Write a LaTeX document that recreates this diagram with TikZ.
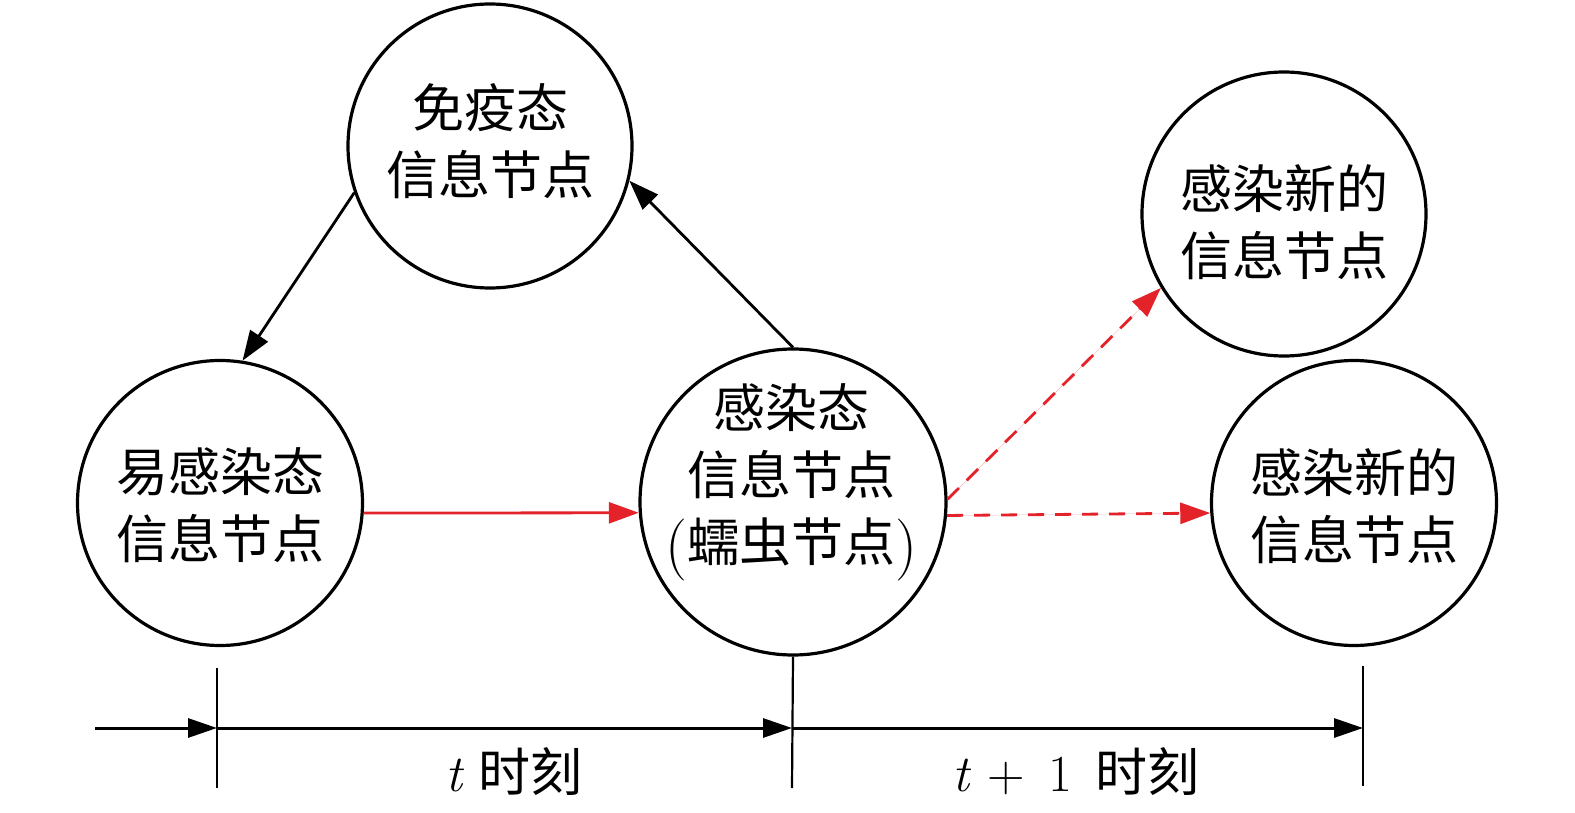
\documentclass[tikz,border=0pt]{standalone}
\usepackage{fontspec}
\newfontfamily\cjk{Noto Sans CJK SC}
\usetikzlibrary{arrows.meta}
\definecolor{myred}{RGB}{228,34,42}
\newcommand{\lmt}[1]{{\rmfamily #1}}
\newcommand{\bigpar}[1]{\raisebox{-4pt}{\rmfamily\fontsize{62}{67}\selectfont #1}}
\begin{document}
\begin{tikzpicture}[x=1pt,y=-1pt,
  circ/.style={circle,draw,line width=3.2pt,inner sep=0pt,minimum size=#1},
  lbl/.style={align=center,inner sep=0pt,font=\cjk\fontsize{52}{67}\selectfont},
  arr/.style={line width=2.8pt,-{Triangle[length=30pt,width=21pt]}},
  redarr/.style={arr,draw=myred,fill=myred},
  dasharr/.style={redarr,dash pattern=on 16pt off 11pt},
  tickline/.style={line width=2.2pt},
  axis/.style={line width=3pt,-{Triangle[length=29pt,width=19pt]}},
]
\useasboundingbox (0,0) rectangle (1575,813);

% circles
\node[circ=284pt] (I) at (490,146) {};
\node[circ=285pt] (S) at (220,503) {};
\node[circ=306pt] (M) at (793,502) {};
\node[circ=284pt] (TR) at (1284,214) {};
\node[circ=285pt] (BR) at (1354,503) {};

% texts
\node[lbl] (It) at (490,141) {免疫态\\信息节点};
\node[lbl] (St) at (220,505) {易感染态\\信息节点};
\node[lbl] (Mt) at (791,482) {感染态\\信息节点\\\bigpar{(}蠕虫节点\bigpar{)}};
\node[lbl] (TRt) at (1284,222) {感染新的\\信息节点};
\node[lbl] (BRt) at (1354,506) {感染新的\\信息节点};

% connectors
\draw[arr] (I.199) -- (S.81);
\draw[arr] (M.north) -- (I.-14);
\draw[redarr] (S.-4) -- (M.184);
\draw[dasharr] (M.1) -- (TR.211);
\draw[dasharr] (M.-5) -- (BR.184);

% timeline
\coordinate (T0) at (95,728);
\coordinate (T1) at (217,728);
\coordinate (T2) at (792,728);
\coordinate (T3) at (1363,728);
\coordinate (T1a) at (217,668);
\coordinate (T1b) at (217,788);
\coordinate (T2b) at (792,788);
\coordinate (T3a) at (1363,666);
\coordinate (T3b) at (1363,786);
\draw[tickline] (T1a) -- (T1b);
\draw[tickline] (M.south) -- (T2b);
\draw[tickline] (T3a) -- (T3b);
\draw[axis] (T0) -- (T1);
\draw[axis] (T1) -- (T2);
\draw[axis] (T2) -- (T3);

\node[lbl] (L1) at (514,772) {\lmt{\itshape t}\hspace{0.3em}时刻};
\node[lbl] (L2) at (1076,772) {\lmt{\itshape t}\hspace{0.35em}\lmt{+}\hspace{0.45em}\lmt{1}\hspace{0.45em}时刻};
\end{tikzpicture}
\end{document}
